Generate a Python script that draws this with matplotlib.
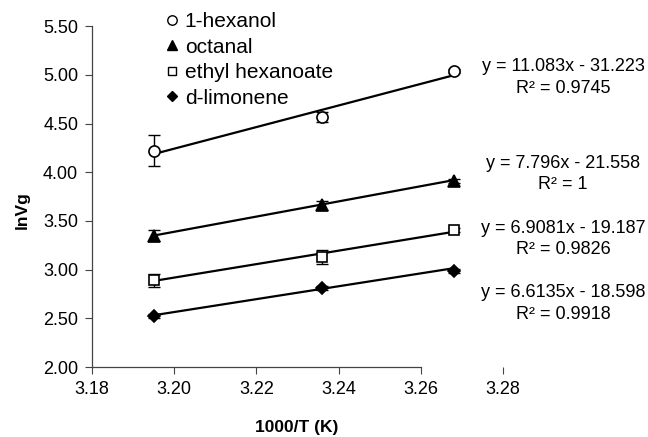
import matplotlib
matplotlib.use("Agg")
import matplotlib.pyplot as plt
from matplotlib.lines import Line2D
import numpy as np

plt.rcParams["font.family"] = ["Liberation Sans", "DejaVu Sans"]

# ── Data ────────────────────────────────────────────────────────────────
inv_t = [3.195, 3.236, 3.268]          # 1000/T (K)

compounds = ["1-hexanol", "octanal", "ethyl hexanoate", "d-limonene"]
ln_vg = {
    "1-hexanol":       [4.22, 4.57, 5.04],
    "octanal":         [3.35, 3.66, 3.91],
    "ethyl hexanoate": [2.89, 3.13, 3.41],
    "d-limonene":      [2.52, 2.81, 2.99],
}
errors = {
    "1-hexanol":       [0.16, 0.05, 0.02],
    "octanal":         [0.06, 0.05, 0.02],
    "ethyl hexanoate": [0.07, 0.07, 0.02],
    "d-limonene":      [0.02, 0.02, 0.02],
}
# trendline coefficients as printed on the chart
slopes     = [11.083, 7.796, 6.9081, 6.6135]
intercepts = [-31.223, -21.558, -19.187, -18.598]
r2_labels  = ["0.9745", "1", "0.9826", "0.9918"]

styles = {
    "1-hexanol":       dict(marker="o", mfc="white", ms=8),
    "octanal":         dict(marker="^", mfc="black", ms=8.5),
    "ethyl hexanoate": dict(marker="s", mfc="white", ms=7.5),
    "d-limonene":      dict(marker="D", mfc="black", ms=6.5),
}

fig = plt.figure(figsize=(6.48, 4.37), dpi=100)
ax = fig.add_axes([0.142, 0.160, 0.634, 0.780])

x = np.array(inv_t)
for name, m, b in zip(compounds, slopes, intercepts):
    ax.plot(x, m * x + b, color="black", lw=1.6, zorder=2)
    ax.errorbar(x, ln_vg[name], yerr=errors[name], fmt="none",
                ecolor="black", elinewidth=1.0, capsize=4.5, capthick=1.0, zorder=3)
    st = styles[name]
    ax.plot(x, ln_vg[name], linestyle="none", marker=st["marker"],
            mfc=st["mfc"], mec="black", mew=1.2, ms=st["ms"], zorder=4)

ax.set_xlim(3.18, 3.28)
ax.set_ylim(2.0, 5.5)
ax.set_xticks([3.18, 3.20, 3.22, 3.24, 3.26, 3.28])
ax.set_yticks([2.0, 2.5, 3.0, 3.5, 4.0, 4.5, 5.0, 5.5])
ax.xaxis.set_major_formatter(matplotlib.ticker.FormatStrFormatter("%.2f"))
ax.yaxis.set_major_formatter(matplotlib.ticker.FormatStrFormatter("%.2f"))
ax.tick_params(axis="both", direction="out", length=5, width=0.8,
               labelsize=13, color="#444444")
ax.tick_params(axis="x", pad=5)
ax.tick_params(axis="y", pad=5)

for s in ["top", "right"]:
    ax.spines[s].set_visible(False)
for s in ["left", "bottom"]:
    ax.spines[s].set_color("#444444")
    ax.spines[s].set_linewidth(0.9)
ax.spines["bottom"].set_bounds(3.18, 3.26)

fig.text(0.458, 0.021, "1000/T (K)", fontsize=12.5, fontweight="bold",
         ha="center", va="center")
fig.text(0.034, 0.52, "lnVg", fontsize=12.5, fontweight="bold",
         rotation=90, ha="center", va="center")

# legend
handles = [Line2D([], [], linestyle="none", marker=styles[n]["marker"],
                  mfc=styles[n]["mfc"], mec="black", mew=1.0,
                  ms=styles[n]["ms"] * 0.85) for n in compounds]
fig.legend(handles, compounds, loc="upper left",
           bbox_to_anchor=(0.253, 0.972), frameon=False, fontsize=15,
           handletextpad=0.2, handlelength=0.8, labelspacing=0.31,
           borderpad=0.0, borderaxespad=0.0)

# trendline equations
eq_y = [0.848, 0.627, 0.478, 0.330]
for yy, m, b, r2 in zip(eq_y, slopes, intercepts, r2_labels):
    fig.text(0.869, yy, f"y = {m:g}x - {abs(b):g}", fontsize=13,
             ha="center", va="center")
    fig.text(0.869, yy - 0.05, f"R² = {r2}", fontsize=13,
             ha="center", va="center")

fig.savefig("out.png", dpi=100)
